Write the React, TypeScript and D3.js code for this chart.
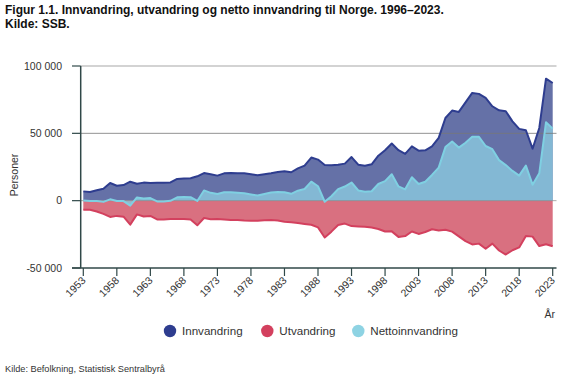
import React from "react";
import * as d3 from "d3";

const years: number[] = d3.range(1953, 2024);

const innvandring: number[] = [
  6900, 6400, 7700, 8900, 13100, 11100, 11600, 14100, 12600, 13400,
  13200, 13300, 13300, 13500, 16100, 16400, 16600, 18100, 20500, 19600,
  18600, 20300, 20600, 20300, 20300, 19600, 18800, 19600, 20300, 21300,
  21800, 21100, 24000, 26000, 32000, 30500, 26500, 26300, 26700, 27500,
  32400, 26700, 26000, 27000, 33400, 37400, 42400, 37500, 34700, 40300,
  37100, 37400, 40300, 46600, 61400, 66900, 65900, 73000, 80000, 79300,
  76300, 70100, 67100, 66400, 58900, 53300, 52300, 38600, 54000, 90600,
  87400,
];

const utvandring: number[] = [
  -6700, -6700, -8000, -9800, -12100, -11300, -11900, -17800, -10200, -11800,
  -11300, -13900, -13900, -13600, -13600, -13600, -14000, -18300, -12900, -13800,
  -13600, -14000, -14300, -14400, -14800, -15000, -15000, -14600, -14300, -14800,
  -15600, -16000, -16600, -17300, -17900, -19800, -27300, -23000, -18100, -17000,
  -18900, -19100, -19300, -20000, -21000, -22900, -22800, -26900, -26300, -22900,
  -24700, -23300, -21200, -22100, -21600, -23000, -26500, -30000, -32500, -31900,
  -35700, -31900, -37000, -40000, -36800, -34700, -26300, -26700, -33700, -32400,
  -33900,
];

const nettoinnvandring: number[] = [
  200, -300, -300, -900, 1000, -200, -300, -3700, 2400, 1600,
  1900, -600, -600, -100, 2500, 2800, 2600, -200, 7600, 5800,
  5000, 6300, 6300, 5900, 5500, 4600, 3800, 5000, 6000, 6500,
  6200, 5100, 7400, 8700, 14100, 10700, -800, 3300, 8600, 10500,
  13500, 7600, 6700, 7000, 12400, 14500, 19600, 10600, 8400, 17400,
  12400, 14100, 19100, 24500, 39800, 43900, 39400, 43000, 47500, 47400,
  40600, 38200, 30100, 26400, 22100, 18600, 26000, 11900, 20300, 58200,
  53500,
];

const xTicks: number[] = d3.range(1953, 2024, 5);
const yTicks: number[] = [100000, 50000, 0, -50000];

const legendItems = [
  { label: "Innvandring", color: "#2e3d8f" },
  { label: "Utvandring", color: "#d3405e" },
  { label: "Nettoinnvandring", color: "#8ed3e3" },
];

const fmt = (v: number) => {
  const s = d3.format(",")(v).replace(/,/g, " ");
  return s.replace("−", "-");
};

export default function App() {
  const x = d3.scaleLinear().domain([1953, 2023]).range([83.3, 552.7]);
  const y = d3.scaleLinear().domain([-50000, 100000]).range([268, 66]);

  const area = (vals: number[]) =>
    d3
      .area<number>()
      .x((_, i) => x(years[i]))
      .y0(y(0))
      .y1((d) => y(d))(vals) || "";
  const line = (vals: number[]) =>
    d3
      .line<number>()
      .x((_, i) => x(years[i]))
      .y((d) => y(d))(vals) || "";

  const font = "'Liberation Sans', Arial, sans-serif";
  const axisColor = "#304848";
  const textColor = "#333";
  const right = 556.5;
  const left = 80.7;

  return (
    <svg
      width={572}
      height={375}
      style={{ position: "absolute", left: 0, top: 0, background: "#fff" }}
      fontFamily={font}
    >
      <text x={5} y={14} fontSize={12} fontWeight="bold" fill="#111">
        Figur 1.1. Innvandring, utvandring og netto innvandring til Norge. 1996–2023.
      </text>
      <text x={5} y={28} fontSize={12} fontWeight="bold" fill="#111">
        Kilde: SSB.
      </text>

      {/* areas */}
      <path d={area(innvandring)} fill="#6571a7" />
      <path d={area(utvandring)} fill="#d97080" />
      <path d={area(nettoinnvandring)} fill="rgba(138,200,222,0.82)" />

      {/* gridlines */}
      <line x1={left} x2={right} y1={y(100000)} y2={y(100000)} stroke="#c4c4c4" strokeWidth={1.5} />
      <line x1={left} x2={right} y1={y(50000)} y2={y(50000)} stroke="#777" strokeOpacity={0.8} strokeWidth={1} />
      <line x1={left} x2={right} y1={y(0)} y2={y(0)} stroke="#888" strokeOpacity={0.7} strokeWidth={1} />

      {/* lines */}
      <path d={line(innvandring)} fill="none" stroke="#2e3d8f" strokeWidth={2} strokeLinejoin="round" />
      <path d={line(utvandring)} fill="none" stroke="#d3405e" strokeWidth={2} strokeLinejoin="round" />
      <path d={line(nettoinnvandring)} fill="none" stroke="#7fd0e2" strokeWidth={2} strokeLinejoin="round" />

      {/* y axis */}
      <line x1={left} x2={left} y1={y(100000)} y2={y(-50000)} stroke={axisColor} strokeWidth={1.5} />
      {yTicks.map((t) => (
        <g key={t}>
          <line x1={72} x2={left} y1={y(t)} y2={y(t)} stroke={axisColor} strokeWidth={1.2} />
          <text x={62} y={y(t)} dy="0.35em" textAnchor="end" fontSize={10.5} fill={textColor}>
            {fmt(t)}
          </text>
        </g>
      ))}
      <text
        transform={`translate(17.5,175) rotate(-90)`}
        textAnchor="middle"
        fontSize={10.5}
        fill={textColor}
      >
        Personer
      </text>

      {/* x axis */}
      <line x1={72} x2={right} y1={y(-50000)} y2={y(-50000)} stroke={axisColor} strokeWidth={1.5} />
      {xTicks.map((t) => (
        <g key={t}>
          <line x1={x(t)} x2={x(t)} y1={y(-50000)} y2={y(-50000) + 8} stroke={axisColor} strokeWidth={1.2} />
          <text
            transform={`translate(${x(t) + 3},${y(-50000) + 13}) rotate(-45)`}
            textAnchor="end"
            fontSize={10.5}
            fill={textColor}
          >
            {t}
          </text>
        </g>
      ))}
      <text x={555} y={318} textAnchor="end" fontSize={10.5} fill={textColor}>
        År
      </text>

      {/* legend */}
      {(() => {
        const pos = [170, 267.3, 358.3];
        return legendItems.map((it, i) => (
          <g key={it.label}>
            <circle cx={pos[i]} cy={331} r={6.2} fill={it.color} />
            <text x={pos[i] + 12} y={331} dy="0.35em" fontSize={11.6} fill={textColor}>
              {it.label}
            </text>
          </g>
        ));
      })()}

      <text x={5} y={372} fontSize={9.2} fill={textColor}>
        Kilde: Befolkning, Statistisk Sentralbyrå
      </text>
    </svg>
  );
}
